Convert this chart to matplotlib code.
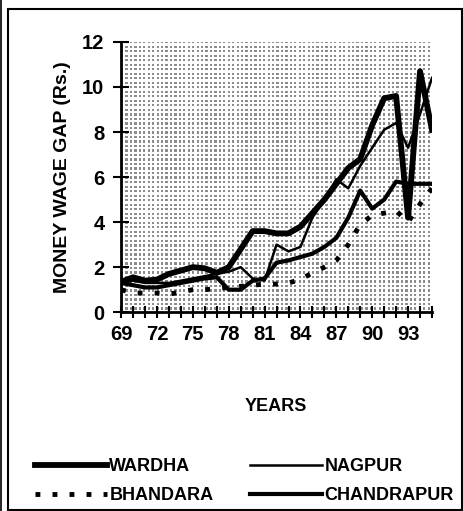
import matplotlib.pyplot as plt
import numpy as np
from matplotlib.patches import Rectangle
from matplotlib.lines import Line2D

plt.rcParams['font.family'] = ['Liberation Sans', 'DejaVu Sans']
plt.rcParams['font.weight'] = 'bold'

years = list(range(69, 96))
wardha = [1.35, 1.55, 1.4, 1.45, 1.7, 1.85, 2.0, 1.95, 1.75, 2.0, 2.8, 3.6, 3.6,
          3.5, 3.5, 3.8, 4.4, 5.0, 5.7, 6.4, 6.8, 8.3, 9.5, 9.6, 4.2, 10.7, 8.1]
nagpur = [1.3, 1.4, 1.3, 1.3, 1.3, 1.4, 1.5, 1.6, 1.7, 1.8, 2.0, 1.5, 1.4,
          3.0, 2.7, 2.9, 4.2, 5.0, 5.9, 5.5, 6.5, 7.3, 8.1, 8.4, 7.3, 8.8, 10.4]
bhandara = [1.0, 0.85, 0.85, 0.85, 0.8, 0.9, 1.0, 1.0, 1.05, 1.1, 1.15, 1.2, 1.25,
            1.25, 1.3, 1.45, 1.75, 2.0, 2.3, 3.0, 3.9, 4.3, 4.4, 4.5, 4.0, 4.8, 5.5]
chandrapur = [1.3, 1.2, 1.1, 1.1, 1.2, 1.3, 1.4, 1.5, 1.55, 1.0, 1.0, 1.4, 1.5,
              2.2, 2.3, 2.45, 2.6, 2.9, 3.3, 4.2, 5.4, 4.6, 5.0, 5.8, 5.7, 5.7, 5.7]
xlabels = ['69', '72', '75', '78', '81', '84', '87', '90', '93']

fig = plt.figure(figsize=(4.64, 5.11), dpi=100)
ax = fig.add_axes([0.261, 0.389, 0.670, 0.529])

# stippled plot background
dots = np.ones((120, 140))
dots[::2, ::2] = 0.55
ax.imshow(dots, extent=[years[0], years[-1], 0, 12], aspect='auto', cmap='gray',
          vmin=0, vmax=1, interpolation='nearest', zorder=0)

l_w, = ax.plot(years, wardha, color='black', lw=4.2, zorder=3)
l_n, = ax.plot(years, nagpur, color='black', lw=1.8, zorder=3)
l_b, = ax.plot(years, bhandara, color='black', lw=3.5, ls=(0, (1, 2.5)), zorder=3)
l_c, = ax.plot(years, chandrapur, color='black', lw=3.0, zorder=3)

ax.set_xlim(years[0], years[-1])
ax.set_ylim(0, 12)
ax.set_xticks(years)
ax.set_xticklabels([str(y) if str(y) in xlabels else '' for y in years])
ax.set_yticks(range(0, 13, 2))
ax.tick_params(axis='both', direction='inout', width=1.5, labelsize=14.5,
               colors='black')
ax.tick_params(axis='x', length=9, pad=5)
ax.tick_params(axis='y', length=12, pad=6)
for s in ['top', 'right']:
    ax.spines[s].set_visible(False)
for s in ['left', 'bottom']:
    ax.spines[s].set_linewidth(2)

ax.set_ylabel('MONEY WAGE GAP (Rs.)', fontsize=14, fontweight='bold', labelpad=8)
fig.text(0.595, 0.204, 'YEARS', fontsize=13, fontweight='bold', ha='center',
         va='center')

# two columns, filled column by column
fig.legend([l_w, l_b, l_n, l_c], ['WARDHA', 'BHANDARA', 'NAGPUR', 'CHANDRAPUR'],
           loc='upper left', bbox_to_anchor=(0.055, 0.121),
           bbox_transform=fig.transFigure, ncol=2, frameon=False, borderpad=0,
           fontsize=13, handlelength=4.0, handletextpad=0.15,
           columnspacing=2.0, labelspacing=0.65)

fig.add_artist(Rectangle((0.017, 0.002), 0.978, 0.980, transform=fig.transFigure,
                         fill=False, lw=1.5, color='black'))
fig.add_artist(Line2D([0.003, 0.003], [0.0, 1.0], transform=fig.transFigure,
                      lw=1.2, color='black'))

fig.savefig('out.png', dpi=100)
